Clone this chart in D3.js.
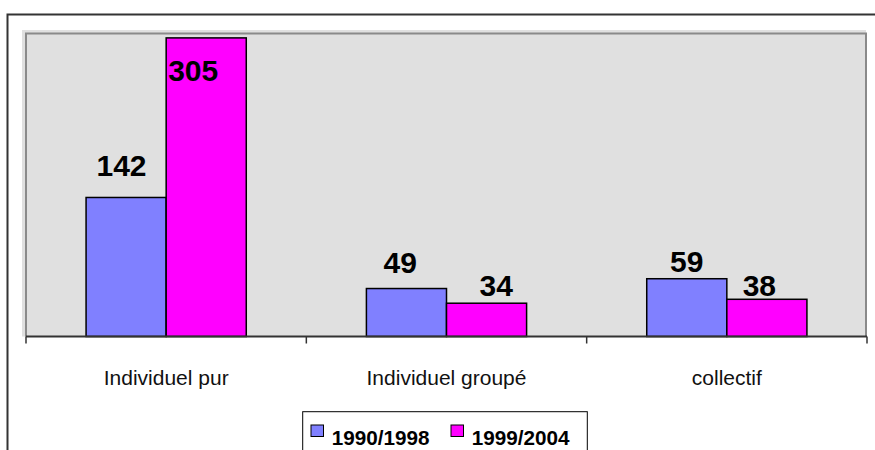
<!DOCTYPE html>
<html>
<head>
<meta charset="utf-8">
<script src="https://cdn.jsdelivr.net/npm/d3@7"></script>
<style>
  body { margin: 0; background: #fff; }
  svg { display: block; font-family: "Liberation Sans", Arial, sans-serif; }
</style>
</head>
<body>
<svg width="875" height="450"></svg>
<script>
// Données
const categories = ["Individuel pur", "Individuel groupé", "collectif"];
const periods = ["1990/1998", "1999/2004"];
const values1990 = [142, 49, 59];
const values1999 = [305, 34, 38];
const yMax = 310;

// Couleurs
const colors = ["#8080ff", "#ff00ff"];

// Petits décalages manuels des étiquettes (comme dans l'original)
const labelNudge = [
  [[-4.6, -14], [-6.3, -9], [0, 0]],
  [[-13, 0], [9.7, 0], [-7.5, 3.6]]
];

const series = [values1990, values1999];

const svg = d3.select("svg");

const plot = { left: 26, right: 867, top: 33, bottom: 336.5 };

// Cadre du graphique
svg.append("path")
  .attr("d", "M7.5,450 V14.5 H875")
  .attr("fill", "none")
  .attr("stroke", "#333")
  .attr("stroke-width", 2);

// Zone de traçage
svg.append("rect")
  .attr("x", 22).attr("y", 30)
  .attr("width", 844).attr("height", plot.bottom - 30)
  .attr("fill", "#e0e0e0");

svg.append("path")
  .attr("d", `M26,${plot.bottom} V33.5 H866 V${plot.bottom}`)
  .attr("fill", "none")
  .attr("stroke", "#8a8a8a")
  .attr("stroke-width", 2);

// Échelles
const x0 = d3.scaleBand()
  .domain(categories)
  .range([plot.left, plot.right])
  .padding(0);

const x1 = d3.scaleBand()
  .domain(periods)
  .range([0, x0.bandwidth()])
  .paddingInner(0)
  .paddingOuter(0.75);

const y = d3.scaleLinear()
  .domain([0, yMax])
  .range([plot.bottom, plot.top]);

// Barres
const rows = categories.map((c, i) => ({
  cat: c,
  items: periods.map((p, s) => ({ p, s, i, v: series[s][i] }))
}));

const groups = svg.append("g")
  .selectAll("g")
  .data(rows)
  .join("g")
  .attr("transform", d => `translate(${x0(d.cat)},0)`);

groups.selectAll("rect")
  .data(d => d.items)
  .join("rect")
  .attr("x", d => x1(d.p))
  .attr("y", d => y(d.v))
  .attr("width", x1.bandwidth())
  .attr("height", d => y(0) - y(d.v))
  .attr("fill", d => colors[d.s])
  .attr("stroke", "#000")
  .attr("stroke-width", 1.5);

// Étiquettes de valeurs
groups.selectAll("text")
  .data(d => d.items)
  .join("text")
  .attr("x", d => x1(d.p) + x1.bandwidth() / 2 + labelNudge[d.s][d.i][0])
  .attr("y", d => Math.max(y(d.v) - 7, plot.top + 48) + labelNudge[d.s][d.i][1])
  .attr("text-anchor", "middle")
  .attr("font-size", 30)
  .attr("font-weight", "bold")
  .attr("fill", "#000")
  .text(d => d.v);

// Axe des X
const xAxis = svg.append("g")
  .attr("transform", `translate(0,${plot.bottom})`)
  .call(d3.axisBottom(x0).tickSize(0).tickPadding(0));
xAxis.select(".domain").attr("stroke", "#333").attr("stroke-width", 2)
  .attr("d", `M${plot.left},0H${plot.right}`);
xAxis.selectAll(".tick text")
  .attr("y", 48.5)
  .attr("dy", null)
  .attr("font-size", 21)
  .attr("font-family", "Liberation Sans, Arial, sans-serif")
  .attr("fill", "#111");

// graduations entre les catégories
const edges = categories.map(c => x0(c)).concat([x0(categories[categories.length - 1]) + x0.bandwidth()]);
svg.append("g")
  .selectAll("line")
  .data(edges)
  .join("line")
  .attr("x1", d => d).attr("x2", d => d)
  .attr("y1", plot.bottom).attr("y2", plot.bottom + 7)
  .attr("stroke", "#333")
  .attr("stroke-width", 1.5);

// Légende
const legend = svg.append("g");
legend.append("rect")
  .attr("x", 302.7).attr("y", 411.7)
  .attr("width", 284.6).attr("height", 60)
  .attr("fill", "#fff")
  .attr("stroke", "#000")
  .attr("stroke-width", 1);

const legendX = [311, 451];
const item = legend.selectAll("g")
  .data(periods)
  .join("g")
  .attr("transform", (d, i) => `translate(${legendX[i]},425)`);

item.append("rect")
  .attr("width", 12.5).attr("height", 11.5)
  .attr("fill", (d, i) => colors[i])
  .attr("stroke", "#000")
  .attr("stroke-width", 1);

item.append("text")
  .attr("x", 20.7)
  .attr("y", 20)
  .attr("font-size", 20.7)
  .attr("font-weight", "bold")
  .attr("fill", "#000")
  .text(d => d);
</script>
</body>
</html>
